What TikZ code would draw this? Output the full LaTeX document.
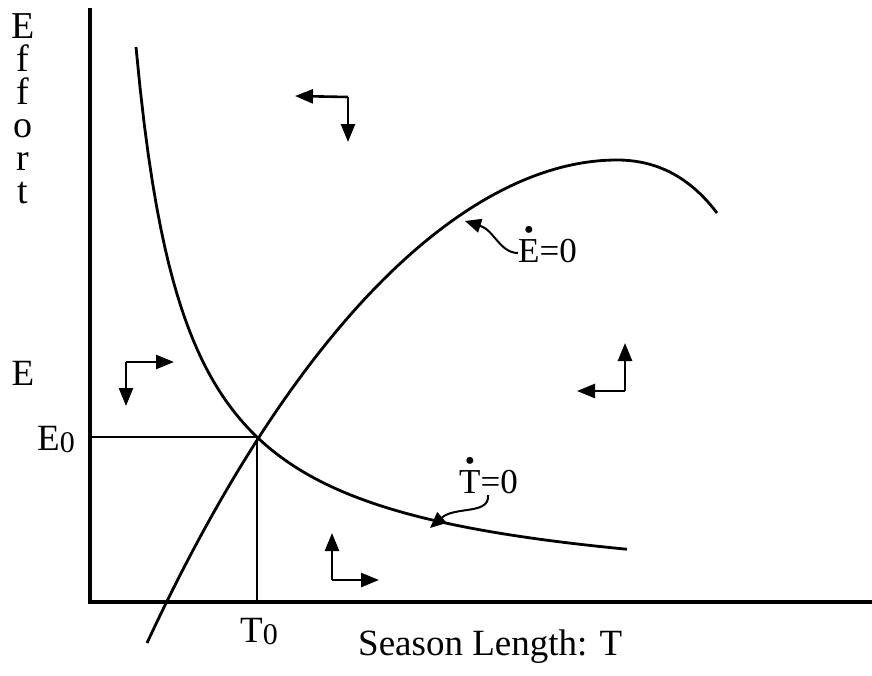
\documentclass[tikz,border=0pt]{standalone}
\usepackage{fontspec}
\setmainfont{Liberation Serif}
\usetikzlibrary{arrows.meta}
\newcommand\dotover[1]{\ooalign{#1\cr\hidewidth\raisebox{0.64em}{\fontsize{29}{29}\selectfont\textbullet}\hidewidth\cr}}
\begin{document}
\begin{tikzpicture}[x=1pt,y=-1pt,
  axisline/.style={line width=4.5pt},
  curveline/.style={line width=2.8pt},
  guideline/.style={line width=1.1pt},
  dirarrow/.style={line width=2.6pt,-{Triangle[length=18pt,width=14pt]}},
  pointer/.style={line width=2pt,-{Triangle[length=16pt,width=14pt]}},
  bigtext/.style={font=\fontsize{37}{37}\selectfont,inner sep=0pt},
  labtext/.style={font=\fontsize{35}{35}\selectfont,inner sep=0pt}]
\useasboundingbox (0,0) rectangle (872,675);
% axes
\coordinate (ytop) at (90,8);
\coordinate (orig) at (90,602);
\coordinate (xend) at (872,602);
\draw[axisline] (ytop) -- (orig) -- (xend);
% equilibrium
\coordinate (eq) at (257,437);
\coordinate (eqy) at (90,437);
\coordinate (eqx) at (257,602);
\draw[guideline] (eqy) -- (eq) -- (eqx);
% T-dot = 0 curve
\draw[curveline] plot[domain=136:627,samples=120] (\x,{601.4-282.73/((\x-85)/100)});
% E-dot = 0 curve
\draw[curveline] (147,643) .. controls (307,299) and (480,160) .. (617,160)
  .. controls (660,160) and (692,180) .. (717,213);
% direction arrows
\coordinate (c1) at (348,97); \coordinate (c1l) at (295,96); \coordinate (c1d) at (348,142);
\draw[dirarrow] (c1) -- (c1l); \draw[dirarrow] (c1) -- (c1d);
\coordinate (c2) at (126,362); \coordinate (c2r) at (174,362); \coordinate (c2d) at (126,406);
\draw[dirarrow] (c2) -- (c2r); \draw[dirarrow] (c2) -- (c2d);
\coordinate (c3) at (625,391); \coordinate (c3u) at (625,343); \coordinate (c3l) at (577,391);
\draw[dirarrow] (c3) -- (c3u); \draw[dirarrow] (c3) -- (c3l);
\coordinate (c4) at (332,580); \coordinate (c4u) at (332,533); \coordinate (c4r) at (379,580);
\draw[dirarrow] (c4) -- (c4u); \draw[dirarrow] (c4) -- (c4r);
% labels
\node[bigtext,anchor=north,align=center,font=\fontsize{38}{33}\selectfont] (effort) at (23,13) {E\\f\\f\\o\\r\\t};
\node[bigtext,anchor=base] (elab) at (23,385) {E};
\node[bigtext,anchor=base west] (e0) at (37,450) {E\raisebox{-2pt}{\fontsize{30}{30}\selectfont 0}};
\node[bigtext,anchor=base west] (t0) at (240,642) {T\raisebox{-2pt}{\fontsize{30}{30}\selectfont 0}};
\node[bigtext,anchor=base west] (xlab) at (358,655) {Season Length: T};
\node[labtext,anchor=base west] (edot) at (518,262) {\dotover{E}=0};
\node[labtext,anchor=base west] (tdot) at (459,493) {\dotover{T}=0};
% pointers
\coordinate (ep1) at (465,221);
\draw[pointer] (edot.west |- 0,253) .. controls (500,253) and (494,230) .. (ep1);
\coordinate (tp1) at (430,528);
\draw[pointer] (488,495) .. controls (490,515) and (455,506) .. (tp1);
\end{tikzpicture}
\end{document}
